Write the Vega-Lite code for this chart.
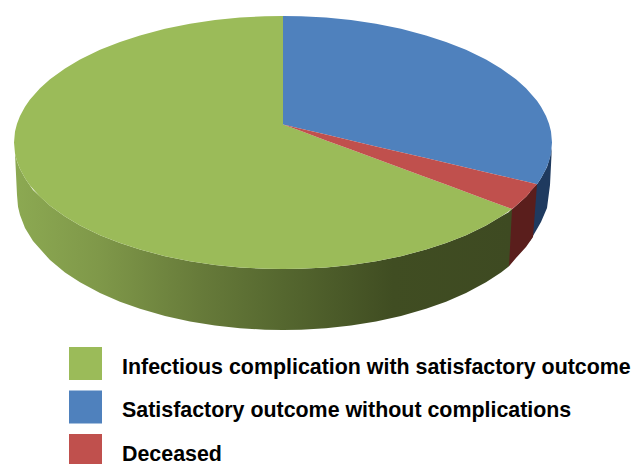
{
"$schema":"https://vega.github.io/schema/vega-lite/v6.json",
"width":632,"height":464,"padding":0,"autosize":"none",
"background":"white",
"config":{"view":{"stroke":null}},
"datasets":{
"face":[
{"slice":"Infectious complication with satisfactory outcome","x":14,"top":142.5,"bottom":142.5},
{"slice":"Infectious complication with satisfactory outcome","x":15,"top":131.6,"bottom":153.4},
{"slice":"Infectious complication with satisfactory outcome","x":17,"top":123.7,"bottom":161.3},
{"slice":"Infectious complication with satisfactory outcome","x":20,"top":115.9,"bottom":169.1},
{"slice":"Infectious complication with satisfactory outcome","x":25,"top":106.7,"bottom":178.3},
{"slice":"Infectious complication with satisfactory outcome","x":30,"top":99.5,"bottom":185.5},
{"slice":"Infectious complication with satisfactory outcome","x":40,"top":88.2,"bottom":196.8},
{"slice":"Infectious complication with satisfactory outcome","x":50,"top":79.3,"bottom":205.7},
{"slice":"Infectious complication with satisfactory outcome","x":65,"top":68.4,"bottom":216.6},
{"slice":"Infectious complication with satisfactory outcome","x":80,"top":59.5,"bottom":225.5},
{"slice":"Infectious complication with satisfactory outcome","x":100,"top":49.8,"bottom":235.2},
{"slice":"Infectious complication with satisfactory outcome","x":120,"top":41.9,"bottom":243.1},
{"slice":"Infectious complication with satisfactory outcome","x":140,"top":35.4,"bottom":249.6},
{"slice":"Infectious complication with satisfactory outcome","x":165,"top":28.8,"bottom":256.2},
{"slice":"Infectious complication with satisfactory outcome","x":190,"top":23.8,"bottom":261.2},
{"slice":"Infectious complication with satisfactory outcome","x":215,"top":20.1,"bottom":264.9},
{"slice":"Infectious complication with satisfactory outcome","x":240,"top":17.6,"bottom":267.4},
{"slice":"Infectious complication with satisfactory outcome","x":265,"top":16.3,"bottom":268.7},
{"slice":"Infectious complication with satisfactory outcome","x":283,"top":16,"bottom":269},
{"slice":"Infectious complication with satisfactory outcome","x":283.01,"top":124.5,"bottom":269},
{"slice":"Infectious complication with satisfactory outcome","x":301,"top":131.1,"bottom":268.7},
{"slice":"Infectious complication with satisfactory outcome","x":326,"top":140.4,"bottom":267.4},
{"slice":"Infectious complication with satisfactory outcome","x":351,"top":149.6,"bottom":264.9},
{"slice":"Infectious complication with satisfactory outcome","x":376,"top":158.8,"bottom":261.2},
{"slice":"Infectious complication with satisfactory outcome","x":401,"top":168.0,"bottom":256.2},
{"slice":"Infectious complication with satisfactory outcome","x":426,"top":177.3,"bottom":249.6},
{"slice":"Infectious complication with satisfactory outcome","x":446,"top":184.6,"bottom":243.1},
{"slice":"Infectious complication with satisfactory outcome","x":466,"top":192.0,"bottom":235.2},
{"slice":"Infectious complication with satisfactory outcome","x":486,"top":199.4,"bottom":225.5},
{"slice":"Infectious complication with satisfactory outcome","x":501,"top":204.9,"bottom":216.6},
{"slice":"Infectious complication with satisfactory outcome","x":512,"top":209,"bottom":209},
{"slice":"Satisfactory outcome without complications","x":283,"top":16,"bottom":124.5},
{"slice":"Satisfactory outcome without complications","x":301,"top":16.3,"bottom":128.7},
{"slice":"Satisfactory outcome without complications","x":326,"top":17.6,"bottom":134.6},
{"slice":"Satisfactory outcome without complications","x":351,"top":20.1,"bottom":140.5},
{"slice":"Satisfactory outcome without complications","x":376,"top":23.8,"bottom":146.4},
{"slice":"Satisfactory outcome without complications","x":401,"top":28.8,"bottom":152.2},
{"slice":"Satisfactory outcome without complications","x":426,"top":35.4,"bottom":158.1},
{"slice":"Satisfactory outcome without complications","x":446,"top":41.9,"bottom":162.8},
{"slice":"Satisfactory outcome without complications","x":466,"top":49.8,"bottom":167.5},
{"slice":"Satisfactory outcome without complications","x":486,"top":59.5,"bottom":172.2},
{"slice":"Satisfactory outcome without complications","x":501,"top":68.4,"bottom":175.7},
{"slice":"Satisfactory outcome without complications","x":516,"top":79.3,"bottom":179.3},
{"slice":"Satisfactory outcome without complications","x":526,"top":88.2,"bottom":181.6},
{"slice":"Satisfactory outcome without complications","x":537,"top":100.8,"bottom":184.2},
{"slice":"Satisfactory outcome without complications","x":541,"top":106.7,"bottom":178.3},
{"slice":"Satisfactory outcome without complications","x":546,"top":115.9,"bottom":169.1},
{"slice":"Satisfactory outcome without complications","x":549,"top":123.7,"bottom":161.3},
{"slice":"Satisfactory outcome without complications","x":551,"top":131.6,"bottom":153.4},
{"slice":"Satisfactory outcome without complications","x":552,"top":142.5,"bottom":142.5},
{"slice":"Deceased","x":283,"top":124.5,"bottom":124.5},
{"slice":"Deceased","x":301,"top":128.7,"bottom":131.1},
{"slice":"Deceased","x":326,"top":134.6,"bottom":140.4},
{"slice":"Deceased","x":351,"top":140.5,"bottom":149.6},
{"slice":"Deceased","x":376,"top":146.4,"bottom":158.8},
{"slice":"Deceased","x":401,"top":152.2,"bottom":168.0},
{"slice":"Deceased","x":426,"top":158.1,"bottom":177.3},
{"slice":"Deceased","x":446,"top":162.8,"bottom":184.6},
{"slice":"Deceased","x":466,"top":167.5,"bottom":192.0},
{"slice":"Deceased","x":486,"top":172.2,"bottom":199.4},
{"slice":"Deceased","x":501,"top":175.7,"bottom":204.9},
{"slice":"Deceased","x":512,"top":178.3,"bottom":209},
{"slice":"Deceased","x":516,"top":179.3,"bottom":205.7},
{"slice":"Deceased","x":526,"top":181.6,"bottom":196.8},
{"slice":"Deceased","x":537,"top":184.2,"bottom":184.2}
],
"rimBlue":[
{"x":530,"top":191,"bottom":241},
{"x":537,"top":184.2,"bottom":229},
{"x":541,"top":178.3,"bottom":222},
{"x":547,"top":167,"bottom":208},
{"x":550,"top":157,"bottom":185},
{"x":551.5,"top":148,"bottom":155}
],
"rimRed":[
{"x":509,"top":212,"bottom":266.2},
{"x":516,"top":205.7,"bottom":258},
{"x":526,"top":196.8,"bottom":247},
{"x":533,"top":188.8,"bottom":237},
{"x":537,"top":184.2,"bottom":184.2}
],
"rimGreen":[
{"x":15,"top":153.4,"bottom":153.4},
{"x":17,"top":161.3,"bottom":195},
{"x":18,"top":164,"bottom":206.7},
{"x":20,"top":169.1,"bottom":215},
{"x":25,"top":178.3,"bottom":227.9},
{"x":33,"top":190,"bottom":241},
{"x":50,"top":205.7,"bottom":260.1},
{"x":65,"top":216.6,"bottom":272.4},
{"x":80,"top":225.5,"bottom":282.2},
{"x":100,"top":235.2,"bottom":293},
{"x":120,"top":243.1,"bottom":301.7},
{"x":140,"top":249.6,"bottom":308.8},
{"x":165,"top":256.2,"bottom":316},
{"x":190,"top":261.2,"bottom":321.5},
{"x":215,"top":264.9,"bottom":325.5},
{"x":240,"top":267.4,"bottom":328.2},
{"x":265,"top":268.7,"bottom":329.7},
{"x":283,"top":269,"bottom":330},
{"x":301,"top":268.7,"bottom":329.7},
{"x":326,"top":267.4,"bottom":328.2},
{"x":351,"top":264.9,"bottom":325.5},
{"x":376,"top":261.2,"bottom":321.5},
{"x":401,"top":256.2,"bottom":316},
{"x":426,"top":249.6,"bottom":308.8},
{"x":446,"top":243.1,"bottom":301.7},
{"x":466,"top":235.2,"bottom":293},
{"x":486,"top":225.5,"bottom":282.2},
{"x":501,"top":216.6,"bottom":272.4},
{"x":509,"top":212,"bottom":266.2},
{"x":512,"top":209,"bottom":209}
]
},
"encoding":{
"x":{"field":"x","type":"quantitative","scale":{"domain":[0,632],"nice":false,"zero":false},"axis":null},
"y":{"field":"top","type":"quantitative","scale":{"domain":[464,0],"nice":false,"zero":false},"axis":null},
"y2":{"field":"bottom"}
},
"layer":[
{"data":{"name":"rimBlue"},"mark":{"type":"area","fill":"#1F3A5F"}},
{"data":{"name":"rimRed"},"mark":{"type":"area","fill":"#5A1E1C"}},
{"data":{"name":"rimGreen"},"mark":{"type":"area","fill":{"gradient":"linear","x1":0,"y1":0,"x2":1,"y2":0,"stops":[
{"offset":0,"color":"#8CA952"},
{"offset":0.17,"color":"#7F9849"},
{"offset":0.37,"color":"#677B3A"},
{"offset":0.54,"color":"#55672F"},
{"offset":0.76,"color":"#404D22"},
{"offset":1,"color":"#3E4A22"}
]}}},
{"data":{"name":"face"},"mark":{"type":"area"},
"encoding":{
"color":{"field":"slice","type":"nominal",
"scale":{"domain":["Infectious complication with satisfactory outcome","Satisfactory outcome without complications","Deceased"],"range":["#9BBB59","#4F81BD","#C0504D"]},
"legend":{"title":null,"orient":"none","legendX":69,"legendY":347,"padding":0,"direction":"vertical","symbolType":"square","symbolSize":1089,"symbolStrokeWidth":0,"rowPadding":10.5,"labelOffset":20,"labelFont":"Liberation Sans","labelFontWeight":"bold","labelFontSize":21.4,"labelColor":"#000000","labelLimit":600,"values":["Infectious complication with satisfactory outcome","Satisfactory outcome without complications","Deceased"],"encoding":{"labels":{"dy":{"value":4},"dx":{"signal":"datum.value === 'Deceased' ? 3 : (datum.value === 'Satisfactory outcome without complications' ? 2 : 0)"}}}}}
}}
]
}
